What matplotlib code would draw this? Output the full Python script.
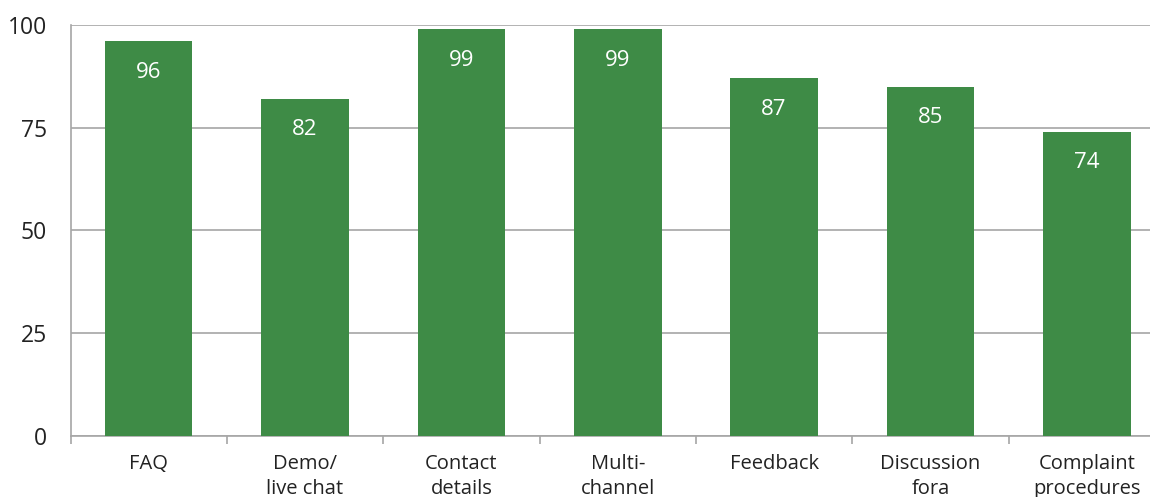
import matplotlib
matplotlib.use("Agg")
import matplotlib.pyplot as plt
import numpy as np

categories = ["FAQ", "Demo/\nlive chat", "Contact\ndetails", "Multi-\nchannel",
              "Feedback", "Discussion\nfora", "Complaint\nprocedures"]
values = [96, 82, 99, 99, 87, 85, 74]
yticks = [0, 25, 50, 75, 100]

plt.rcParams['font.family'] = ['Open Sans', 'DejaVu Sans']

fig = plt.figure(figsize=(11.5, 4.97), dpi=100)
x0 = 70.5 / 1150
x1 = 1165 / 1150
ytop = 1 - 25 / 497
ybot = 1 - 436 / 497
ax = fig.add_axes([x0, ybot, x1 - x0, ytop - ybot])

green = "#3e8b46"
grid = "#a6a6a6"
xs = np.arange(len(categories))
ax.bar(xs, values, width=0.56, color=green, zorder=3)
for xi, v in zip(xs, values):
    ax.annotate(str(v), (xi, v), xytext=(0, -31), textcoords="offset pixels",
                ha="center", va="center", color="white", fontsize=16, zorder=4)

ax.set_xlim(-0.5, len(categories) - 0.5)
ax.set_ylim(0, 100)
ax.set_yticks(yticks)
ax.set_yticklabels([str(t) for t in yticks], fontsize=16.5, color="#222222")
ax.yaxis.grid(True, color=grid, linewidth=1.2, zorder=0)
ax.tick_params(axis="y", length=0, pad=17)

ax.set_xticks(np.arange(len(categories) + 1) - 0.5)
ax.set_xticklabels([])
ax.set_xticks(xs, minor=True)
ax.set_xticklabels(categories, minor=True, fontsize=14.5, color="#222222", linespacing=1.3)
ax.tick_params(axis="x", which="major", length=6, color=grid, width=1.2, direction="out")
ax.tick_params(axis="x", which="minor", length=0, pad=13)

for s in ["top", "right"]:
    ax.spines[s].set_visible(False)
ax.spines["left"].set_color(grid)
ax.spines["bottom"].set_color(grid)
ax.spines["left"].set_linewidth(1.2)
ax.spines["bottom"].set_linewidth(1.2)

fig.savefig("out.png", dpi=100)
